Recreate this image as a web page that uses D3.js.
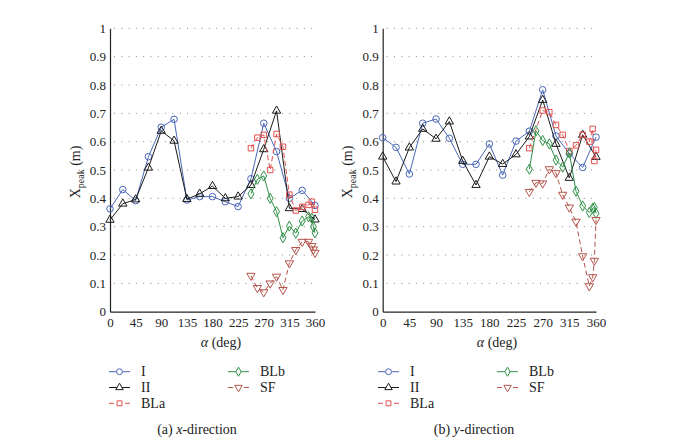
<!DOCTYPE html>
<html><head><meta charset="utf-8">
<script src="https://cdn.jsdelivr.net/npm/d3@7"></script>
<style>body{margin:0;background:#fff}svg{display:block}text{font-family:"Liberation Serif","DejaVu Serif",serif;fill:#222}</style>
</head><body><svg id="c" width="688" height="447"></svg>
<script>
// ---- data ----
const alphaMain = [0,22.5,45,67.5,90,112.5,135,157.5,180,202.5,225,247.5,270,292.5,315,337.5,360];
const alphaFine = [247.5,258.75,270,281.25,292.5,303.75,315,326.25,337.5,348.75,354.375,357.1875,360];
const alphaBLaX = [247.5,258.75,270,281.25,292.5,303.75,315,326.25,337.5,348.75,354.375,360];
const alphaBLaY = [247.5,270,281.25,292.5,303.75,315,326.25,337.5,348.75,354.375,357.1875,360];
const xTicks = [0,45,90,135,180,225,270,315,360];
const yTicks = [0,0.1,0.2,0.3,0.4,0.5,0.6,0.7,0.8,0.9,1];
const seriesNames = ["I","II","BLa","BLb","SF"];

// x-direction
const xI   = [0.363,0.431,0.392,0.547,0.651,0.679,0.394,0.406,0.406,0.388,0.371,0.469,0.665,0.565,0.400,0.428,0.375];
const xII  = [0.324,0.381,0.396,0.508,0.638,0.603,0.397,0.416,0.443,0.400,0.406,0.447,0.573,0.709,0.365,0.362,0.325];
const xBLa = [0.577,0.614,0.624,0.500,0.627,0.582,0.413,0.357,0.370,0.377,0.388,0.360];
const xBLb = [0.416,0.467,0.479,0.400,0.353,0.261,0.302,0.277,0.320,0.335,0.330,0.300,0.278];
const xSF  = [0.127,0.084,0.069,0.100,0.124,0.077,0.171,0.218,0.247,0.247,0.232,0.220,0.208];

// y-direction
const yI   = [0.614,0.580,0.486,0.665,0.680,0.612,0.520,0.520,0.592,0.482,0.602,0.637,0.783,0.620,0.558,0.509,0.616];
const yII  = [0.547,0.459,0.579,0.645,0.610,0.671,0.532,0.447,0.547,0.521,0.555,0.618,0.747,0.592,0.472,0.624,0.546];
const yBLa = [0.577,0.710,0.704,0.659,0.624,0.567,0.587,0.624,0.600,0.645,0.532,0.571];
const yBLb = [0.503,0.638,0.604,0.592,0.535,0.510,0.560,0.425,0.373,0.350,0.365,0.368,0.347];
const ySF  = [0.423,0.455,0.453,0.503,0.489,0.413,0.368,0.318,0.196,0.090,0.122,0.180,0.324];

// ---- styles ----
const SERIF = '"Liberation Serif","DejaVu Serif",serif';
const styles = {
  I:   {color:"#4a67b8", dash:null,  sym:d3.symbolCircle,   size:34, rot:0},
  II:  {color:"#1a1a1a", dash:null,  sym:d3.symbolTriangle, size:30, rot:0},
  BLa: {color:"#e0504f", dash:"5,3", sym:d3.symbolSquare,   size:30, rot:0},
  BLb: {color:"#2f9148", dash:null,  sym:d3.symbolDiamond,  size:30, rot:0},
  SF:  {color:"#b4544c", dash:"5,3", sym:d3.symbolTriangle, size:30, rot:180}
};

const svg = d3.select("#c");

function panel(cfg){
  const x = d3.scaleLinear().domain([0,360]).range([cfg.x0,cfg.x1]);
  const y = d3.scaleLinear().domain([0,1]).range([311.7,28.3]);
  const g = svg.append("g");
  // grid
  g.selectAll("line.grid").data(yTicks.filter(d=>d>0)).enter().append("line")
    .attr("x1",cfg.x0+4).attr("x2",cfg.x1+2).attr("y1",d=>y(d)).attr("y2",d=>y(d))
    .attr("stroke","#8a8a8a").attr("stroke-width",1).attr("stroke-dasharray","1,6.3");
  // axes
  const ax = d3.axisBottom(x).tickValues(xTicks).tickSize(0).tickPadding(6).tickFormat(d3.format("d"));
  const ay = d3.axisLeft(y).tickValues(yTicks).tickSize(0).tickPadding(4).tickFormat(d=>d===0?"0":d===1?"1":d3.format(".1f")(d));
  const gx = g.append("g").attr("transform","translate(0,311.7)").call(ax);
  const gy = g.append("g").attr("transform",`translate(${cfg.x0},0)`).call(ay);
  [gx,gy].forEach(a=>{
    a.attr("font-family",SERIF).attr("font-size",13);
    a.select(".domain").attr("stroke","#222").attr("stroke-width",1.2);
    a.selectAll("text").style("font-family",SERIF).style("font-size","13px").attr("fill","#222");
  });
  // series
  cfg.series.forEach(s=>{
    const st = styles[s.name];
    const pts = s.a.map((a,i)=>[a,s.v[i]]);
    const line = d3.line().x(d=>x(d[0])).y(d=>y(d[1]));
    g.append("path").attr("d",line(pts)).attr("fill","none").attr("stroke",st.color)
      .attr("stroke-width",1).attr("stroke-dasharray",st.dash);
    const sym = d3.symbol().type(st.sym).size(st.size);
    g.selectAll(null).data(pts).enter().append("path").attr("d",sym)
      .attr("transform",d=>`translate(${x(d[0])},${y(d[1])}) rotate(${st.rot})`)
      .attr("fill","none").attr("stroke",st.color).attr("stroke-width",1);
  });
  // labels
  g.append("text").attr("x",cfg.xlabX).attr("y",347).attr("text-anchor","middle").style("font-size","14px")
    .html('<tspan font-style="italic">α</tspan> (deg)');
  const yl = g.append("text").attr("transform",`translate(${cfg.ylabX},172) rotate(-90)`).attr("text-anchor","middle").style("font-size","14px");
  yl.append("tspan").text("X");
  yl.append("tspan").attr("dy",4).style("font-size","10px").text("peak");
  yl.append("tspan").attr("dy",-4).text(" (m)");
  // legend
  const leg = [{n:"I",c:0,r:0},{n:"II",c:0,r:1},{n:"BLa",c:0,r:2},{n:"BLb",c:1,r:0},{n:"SF",c:1,r:1}];
  leg.forEach(l=>{
    const st = styles[l.n];
    const lx = cfg.legX[l.c], ly = 371.7 + l.r*15.8;
    g.append("line").attr("x1",lx).attr("x2",lx+21).attr("y1",ly).attr("y2",ly)
      .attr("stroke",st.color).attr("stroke-width",1).attr("stroke-dasharray",st.dash);
    g.append("path").attr("d",d3.symbol().type(st.sym).size(st.size*0.8))
      .attr("transform",`translate(${lx+10.5},${ly}) rotate(${st.rot})`)
      .attr("fill","#fff").attr("stroke",st.color);
    g.append("text").attr("x",lx+32).attr("y",ly+4.5).style("font-size","14px").text(l.n);
  });
  // caption
  const cap = g.append("text").attr("x",cfg.capX).attr("y",434).attr("text-anchor","middle").style("font-size","14px");
  cap.append("tspan").text(cfg.capL+"  ");
  cap.append("tspan").attr("font-style","italic").text(cfg.capV);
  cap.append("tspan").text("-direction");
}

panel({x0:110, x1:315, xlabX:221, ylabX:80, legX:[109,228], capX:197, capL:"(a)", capV:"x",
  series:[{name:"I",a:alphaMain,v:xI},{name:"II",a:alphaMain,v:xII},{name:"BLa",a:alphaBLaX,v:xBLa},
          {name:"BLb",a:alphaFine,v:xBLb},{name:"SF",a:alphaFine,v:xSF}]});
panel({x0:382.7, x1:596, xlabX:497, ylabX:352, legX:[378,497], capX:474, capL:"(b)", capV:"y",
  series:[{name:"I",a:alphaMain,v:yI},{name:"II",a:alphaMain,v:yII},{name:"BLa",a:alphaBLaY,v:yBLa},
          {name:"BLb",a:alphaFine,v:yBLb},{name:"SF",a:alphaFine,v:ySF}]});
</script></body></html>
